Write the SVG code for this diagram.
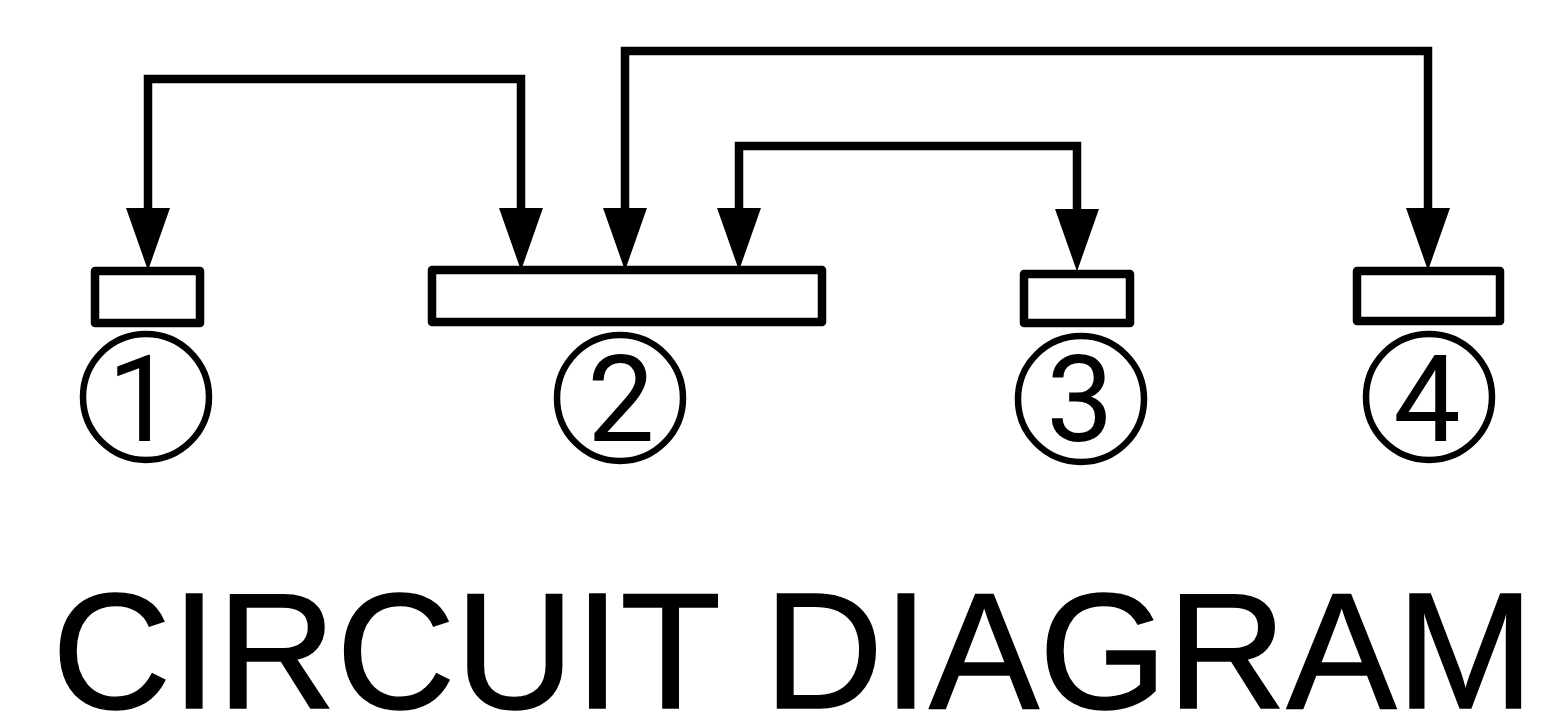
<svg xmlns="http://www.w3.org/2000/svg" width="1562" height="723" viewBox="0 0 1562 723">
<style>
.wire{fill:none;stroke:#000;stroke-width:8.5;stroke-linejoin:miter;stroke-linecap:butt}
.head{fill:#000;stroke:#000;stroke-width:12;stroke-linejoin:miter;stroke-miterlimit:6}
.box{fill:#fff;stroke:#000;stroke-width:8.5;stroke-linejoin:round}
.ring{fill:#fff;stroke:#000;stroke-width:6.5}
.num{font-family:Roboto,'Liberation Sans',sans-serif;font-size:120px;fill:#000;text-anchor:middle}
.title{font-family:'Liberation Sans',Arial,sans-serif;font-size:165px;fill:#000;stroke:#000;stroke-width:1.5}
</style>
<defs>
<polygon id="ah" points="-13.5,-56 13.5,-56 0,-17.6"/>
</defs>
<rect width="1562" height="723" fill="#fff"/>
<g id="connectors">
<path class="wire" d="M521,220 V79 H148 V220"/>
<path class="wire" d="M739,220 V146 H1077 V220"/>
<path class="wire" d="M625,220 V51 H1428 V220"/>
<use href="#ah" class="head" x="148" y="270"/>
<use href="#ah" class="head" x="521" y="270"/>
<use href="#ah" class="head" x="625" y="270"/>
<use href="#ah" class="head" x="739" y="270"/>
<use href="#ah" class="head" x="1077" y="271"/>
<use href="#ah" class="head" x="1428" y="270"/>
</g>
<g id="node1">
<rect class="box" x="95" y="271" width="105" height="52"/>
<circle class="ring" cx="146" cy="397" r="63"/>
<text class="num" x="141" y="441">1</text>
</g>
<g id="node2">
<rect class="box" x="432" y="270" width="390" height="52"/>
<circle class="ring" cx="620" cy="398" r="63"/>
<text class="num" x="621" y="441">2</text>
</g>
<g id="node3">
<rect class="box" x="1024" y="274" width="106" height="49"/>
<circle class="ring" cx="1081" cy="399" r="63"/>
<text class="num" x="1080" y="441">3</text>
</g>
<g id="node4">
<rect class="box" x="1357" y="271" width="143" height="50"/>
<circle class="ring" cx="1429" cy="397" r="63"/>
<text class="num" x="1427" y="441">4</text>
</g>
<text class="title" x="52" y="708">CIRCUIT DIAGRAM</text>
</svg>
